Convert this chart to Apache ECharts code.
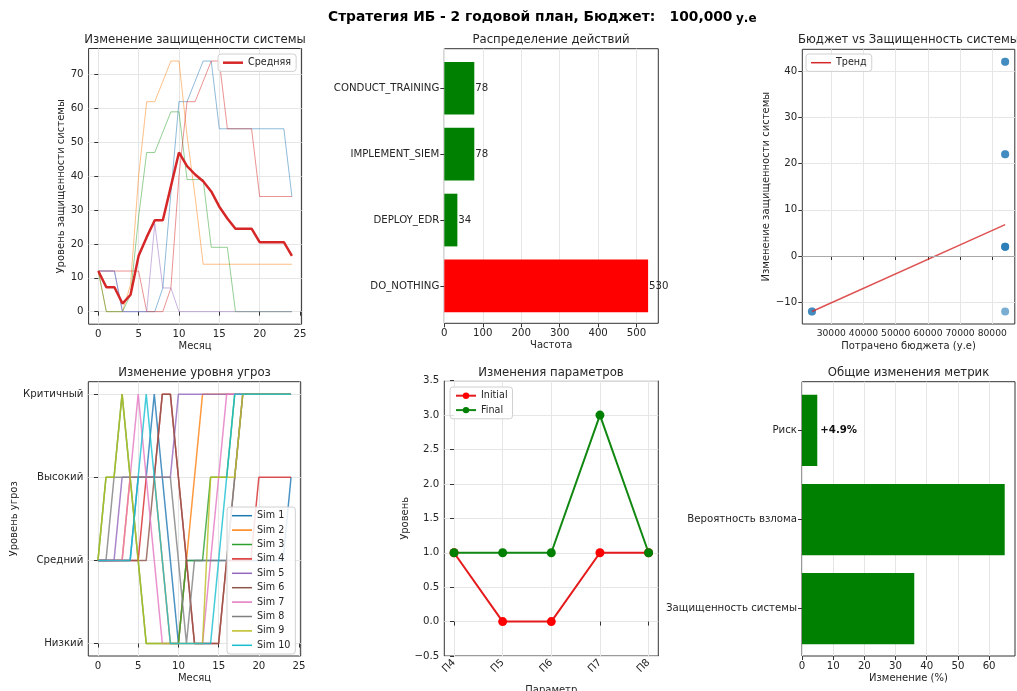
<!DOCTYPE html>
<html>
<head>
<meta charset="utf-8">
<script src="https://cdn.jsdelivr.net/npm/echarts@6/dist/echarts.min.js"></script>
<style>
html, body { margin: 0; padding: 0; background: #fff; }
#chart { width: 1017px; height: 691px; }
</style>
</head>
<body>
<div id="chart"></div>
<script>
// данные
var months = [0,1,2,3,4,5,6,7,8,9,10,11,12,13,14,15,16,17,18,19,20,21,22,23,24];

// защищенность системы по симуляциям
var secSim1 = [12,12,12,0,0,0,0,0,7,35,62,62,68,74,74,54,54,54,54,54,54,54,54,54,34];
var secSim2 = [12,0,0,0,8,40,62,62,68,74,74,52,34,14,14,14,14,14,14,14,14,14,14,14,14];
var secSim3 = [12,0,0,0,5,28,47,47,53,59,59,39,39,39,19,19,19,0,0,0,0,0,0,0,0];
var secSim4 = [12,12,12,12,12,12,0,0,0,7,40,62,62,68,74,74,54,54,54,54,34,34,34,34,34];
var secSim5 = [12,12,12,0,0,0,0,26,7,7,0,0,0,0,0,0,0,0,0,0,0,0,0,0,0];
var secMean = [12,7.2,7.2,2.4,5,16.5,22,27,27,37,47,43,40.5,38.5,35.5,31,27.5,24.5,24.5,24.5,20.5,20.5,20.5,20.5,16.5];

// действия
var actionNames = ['DO_NOTHING', 'DEPLOY_EDR', 'IMPLEMENT_SIEM', 'CONDUCT_TRAINING'];
var actionCounts = [530, 34, 78, 78];

// бюджет vs защищенность
var spentBudget = [24000, 24000, 84000, 84000, 84000, 84000, 84000, 84000, 84000, 84000];
var secChange = [-12, -12, 42, 42, 22, 22, 2, 2, 2, -12];
var trendX = [24000, 84000];
var trendY = [-12, 6.8];

// уровень угроз (0 Низкий .. 3 Критичный)
var threatLevels = ['Низкий', 'Средний', 'Высокий', 'Критичный'];
var threatSims = [
    [1,1,1,1,1,2,2,3,2,1,0,1,1,1,1,1,1,1,1,1,1,1,1,1,2],
    [1,1,1,1,2,2,2,2,1,0,0,1,2,3,3,3,3,3,3,3,3,3,3,3,3],
    [1,2,2,3,2,1,0,0,0,0,0,1,1,1,2,2,2,3,3,3,3,3,3,3,3],
    [1,1,1,1,1,1,2,2,3,3,2,1,0,0,0,0,1,1,1,1,2,2,2,2,2],
    [1,1,1,2,2,2,2,2,2,2,3,3,3,3,3,3,3,3,3,3,3,3,3,3,3],
    [1,1,1,1,1,1,1,2,3,3,2,1,0,0,0,0,1,2,3,3,3,3,3,3,3],
    [1,1,1,1,2,3,2,1,0,0,0,0,0,0,1,2,3,3,3,3,3,3,3,3,3],
    [1,1,2,2,2,2,2,2,2,2,1,0,1,1,1,1,1,2,3,3,3,3,3,3,3],
    [1,2,2,3,2,1,0,0,0,0,0,0,0,0,2,2,2,2,3,3,3,3,3,3,3],
    [1,1,1,1,1,2,3,2,1,0,0,0,0,0,0,1,2,3,3,3,3,3,3,3,3]
];
var simNames = ['Sim 1','Sim 2','Sim 3','Sim 4','Sim 5','Sim 6','Sim 7','Sim 8','Sim 9','Sim 10'];

// параметры
var paramNames = ['П4', 'П5', 'П6', 'П7', 'П8'];
var paramInitial = [1, 0, 0, 1, 1];
var paramFinal = [1, 1, 1, 3, 1];

// общие изменения метрик
var metricNames = ['Защищенность системы', 'Вероятность взлома', 'Риск'];
var metricValues = [36, 65, 4.9];

var tab10 = ['#1f77b4','#ff7f0e','#2ca02c','#d62728','#9467bd','#8c564b','#e377c2','#7f7f7f','#bcbd22','#17becf'];
var FONT = 'DejaVu Sans';
var TXT = '#262626';
var GRIDC = '#e6e6e6';
var TICKFS = 10.2;

function minus(v) {
    return String(v).replace('-', '\u2212');
}

function frame(left, top, width, height, show) {
    return {
        left: left, top: top, width: width, height: height,
        show: show, borderColor: '#333', borderWidth: 1,
        backgroundColor: 'transparent',
        outerBoundsMode: 'none', containLabel: false
    };
}

function valAxis(grid, min, max, ticks, fmt, name, nameGap, grid_lines) {
    return {
        type: 'value', gridIndex: grid, min: min, max: max,
        name: name, nameLocation: 'middle', nameGap: nameGap,
        nameTextStyle: { color: TXT, fontSize: 10, fontFamily: FONT },
        axisLine: { show: false },
        axisTick: { show: true, length: 4, customValues: ticks, lineStyle: { color: '#333' } },
        axisLabel: {
            customValues: ticks, formatter: fmt || function (v) { return minus(v); },
            color: TXT, fontSize: TICKFS, fontFamily: FONT, margin: 5, hideOverlap: false
        },
        splitLine: { show: grid_lines, lineStyle: { color: GRIDC, width: 1 } }
    };
}

function hiddenAxis(grid, min, max) {
    return { type: 'value', gridIndex: grid, min: min, max: max, show: false, splitLine: { show: false } };
}

function catAxis(grid, names) {
    return {
        type: 'category', gridIndex: grid, data: names,
        axisLine: { show: false },
        axisTick: { show: true, alignWithLabel: true, length: 4, lineStyle: { color: '#333' } },
        axisLabel: { color: TXT, fontSize: TICKFS, fontFamily: FONT, margin: 5 },
        splitLine: { show: false }
    };
}

function pairs(xs, ys) {
    var out = [];
    for (var i = 0; i < ys.length; i++) out.push([xs[i], ys[i]]);
    return out;
}

var chart = echarts.init(document.getElementById('chart'));

var grids = [
    frame(88.6, 48.5, 213, 275.7, true),   // 0 защищенность
    frame(444.3, 48.7, 214, 274.6, true),  // 1 рамка действий
    frame(444.3, 55.3, 214, 263.6, false), // 2 столбцы действий
    frame(802.3, 49.3, 212.5, 274.7, true),// 3 бюджет
    frame(88.3, 381.7, 212.4, 274.3, true),// 4 угрозы
    frame(444.3, 380.7, 214, 275.3, true), // 5 параметры
    frame(802, 381.7, 213, 274.3, true),   // 6 рамка метрик
    frame(802, 385.9, 213, 267.3, false)   // 7 столбцы метрик
];

var xAxes = [
    valAxis(0, -1.2, 25.2, [0,5,10,15,20,25], null, 'Месяц', 17, true),
    valAxis(1, 0, 556.5, [0,100,200,300,400,500], null, 'Частота', 17, true),
    hiddenAxis(2, 0, 556.5),
    valAxis(3, 21000, 87000, [30000,40000,50000,60000,70000,80000], function (v) { return String(v); }, 'Потрачено бюджета (у.е)', 17, true),
    valAxis(4, -1.2, 25.2, [0,5,10,15,20,25], null, 'Месяц', 17, true),
    valAxis(5, -0.2, 4.2, [0,1,2,3,4], function (v) { return paramNames[v]; }, 'Параметр', 29, true),
    valAxis(6, 0, 68.3, [0,10,20,30,40,50,60], null, 'Изменение (%)', 17, true),
    hiddenAxis(7, 0, 68.3)
];
xAxes[3].axisLabel.fontSize = 9.2;
xAxes[3].axisLabel.interval = 0;
xAxes[5].axisLabel.rotate = 45;

var yAxes = [
    valAxis(0, -3.7, 77.7, [0,10,20,30,40,50,60,70], null, 'Уровень защищенности системы', 21, true),
    hiddenAxis(1, 0, 1),
    catAxis(2, actionNames),
    valAxis(3, -14.7, 44.7, [-10,0,10,20,30,40], null, 'Изменение защищенности системы', 31, true),
    valAxis(4, -0.15, 3.15, [0,1,2,3], function (v) { return threatLevels[v]; }, 'Уровень угроз', 68, true),
    valAxis(5, -0.5, 3.5, [-0.5,0,0.5,1,1.5,2,2.5,3,3.5], function (v) { return minus(v.toFixed(1)); }, 'Уровень', 33, true),
    hiddenAxis(6, 0, 1),
    catAxis(7, metricNames)
];

var series = [];

// 1. защищенность системы
[secSim1, secSim2, secSim3, secSim4, secSim5].forEach(function (s, i) {
    series.push({
        name: 'sec' + (i + 1), type: 'line', xAxisIndex: 0, yAxisIndex: 0,
        data: pairs(months, s), symbol: 'none', silent: true,
        lineStyle: { color: tab10[i], width: 1, opacity: 0.5 }, itemStyle: { color: tab10[i] }
    });
});
series.push({
    name: 'Средняя', type: 'line', xAxisIndex: 0, yAxisIndex: 0,
    data: pairs(months, secMean), symbol: 'none',
    lineStyle: { color: '#d62728', width: 2.5 }, itemStyle: { color: '#d62728' }
});

// 2. распределение действий
series.push({
    name: 'actions', type: 'bar', xAxisIndex: 2, yAxisIndex: 2,
    barWidth: 52.7,
    data: actionCounts.map(function (v, i) {
        return { value: v, itemStyle: { color: actionNames[i] === 'DO_NOTHING' ? '#ff0000' : '#008000' } };
    }),
    label: { show: true, position: 'right', distance: 1, color: TXT, fontSize: TICKFS, fontFamily: FONT }
});

// 3. бюджет vs защищенность
series.push({
    name: 'points', type: 'scatter', xAxisIndex: 3, yAxisIndex: 3,
    data: pairs(spentBudget, secChange), symbolSize: 8,
    itemStyle: { color: '#1f77b4', opacity: 0.6 }
});
series.push({
    name: 'Тренд', type: 'line', xAxisIndex: 3, yAxisIndex: 3,
    data: pairs(trendX, trendY), symbol: 'none',
    lineStyle: { color: '#d62728', width: 1.5, opacity: 0.8 }, itemStyle: { color: '#d62728' },
    markLine: {
        silent: true, symbol: ['none', 'none'], label: { show: false },
        lineStyle: { color: '#a8a8a8', width: 1, type: 'solid' },
        data: [{ yAxis: 0 }]
    }
});

// 4. уровень угроз
threatSims.forEach(function (s, i) {
    series.push({
        name: simNames[i], type: 'line', xAxisIndex: 4, yAxisIndex: 4,
        data: pairs(months, s), symbol: 'none',
        lineStyle: { color: tab10[i], width: 1.5, opacity: 0.8 }, itemStyle: { color: tab10[i] }
    });
});

// 5. параметры
series.push({
    name: 'Initial', type: 'line', xAxisIndex: 5, yAxisIndex: 5,
    data: pairs([0,1,2,3,4], paramInitial), symbol: 'circle', symbolSize: 9,
    lineStyle: { color: '#e41a1c', width: 2 }, itemStyle: { color: '#ff0000' }
});
series.push({
    name: 'Final', type: 'line', xAxisIndex: 5, yAxisIndex: 5,
    data: pairs([0,1,2,3,4], paramFinal), symbol: 'circle', symbolSize: 9,
    lineStyle: { color: '#118811', width: 2 }, itemStyle: { color: '#008000' }
});

// 6. метрики
series.push({
    name: 'metrics', type: 'bar', xAxisIndex: 7, yAxisIndex: 7,
    barWidth: 71.3,
    data: metricValues.map(function (v, i) {
        return {
            value: v,
            label: {
                show: metricNames[i] === 'Риск', position: 'right', distance: 3,
                formatter: '+' + v + '%', color: '#111', fontWeight: 'bold', fontSize: TICKFS, fontFamily: FONT
            }
        };
    }),
    itemStyle: { color: '#008000' }
});

function legendBox(names, left, top, lineH) {
    var lg = {
        data: names, left: left, top: top, orient: 'vertical',
        backgroundColor: 'rgba(255,255,255,0.85)', borderColor: '#d0d0d0', borderWidth: 1, borderRadius: 3,
        padding: [3, 5, 3, 5], itemWidth: 20, itemHeight: 8, itemGap: 3,
        textStyle: { color: TXT, fontSize: 9.6, fontFamily: FONT, lineHeight: 11.4 },
        selectedMode: false
    };
    if (lineH) {
        lg.icon = 'rect';
        lg.itemHeight = lineH;
    }
    return lg;
}

function subTitle(text, x, y) {
    return {
        type: 'text', x: x, y: y, silent: true,
        style: { text: text, fill: TXT, font: '11.7px "DejaVu Sans"', textAlign: 'center', textVerticalAlign: 'middle' }
    };
}

var option = {
    backgroundColor: '#ffffff',
    animation: false,
    grid: grids,
    xAxis: xAxes,
    yAxis: yAxes,
    legend: [
        legendBox(['Средняя'], 218, 54, 2.5),
        legendBox(['Тренд'], 806, 54, 1.5),
        legendBox(simNames, 227, 507, 1.5),
        legendBox(['Initial', 'Final'], 450, 387, 0)
    ],
    graphic: [
        {
            type: 'text', x: 328, y: 17, silent: true,
            style: { text: 'Стратегия ИБ - 2 годовой план, Бюджет:   100,000', fill: '#000', font: 'bold 13.8px "DejaVu Sans"', textAlign: 'left', textVerticalAlign: 'middle' }
        },
        {
            type: 'text', x: 736, y: 19, silent: true,
            style: { text: 'у.е', fill: '#000', font: 'bold 12px "DejaVu Sans"', textAlign: 'left', textVerticalAlign: 'middle' }
        },
        subTitle('Изменение защищенности системы', 195, 40),
        subTitle('Распределение действий', 551, 40),
        subTitle('Бюджет vs Защищенность системы', 908.5, 40),
        subTitle('Изменение уровня угроз', 194.5, 372.5),
        subTitle('Изменения параметров', 551, 372.5),
        subTitle('Общие изменения метрик', 908.5, 372.5)
    ],
    series: series
};

chart.setOption(option);

window.addEventListener('resize', function () {
    chart.resize();
});
</script>
</body>
</html>
